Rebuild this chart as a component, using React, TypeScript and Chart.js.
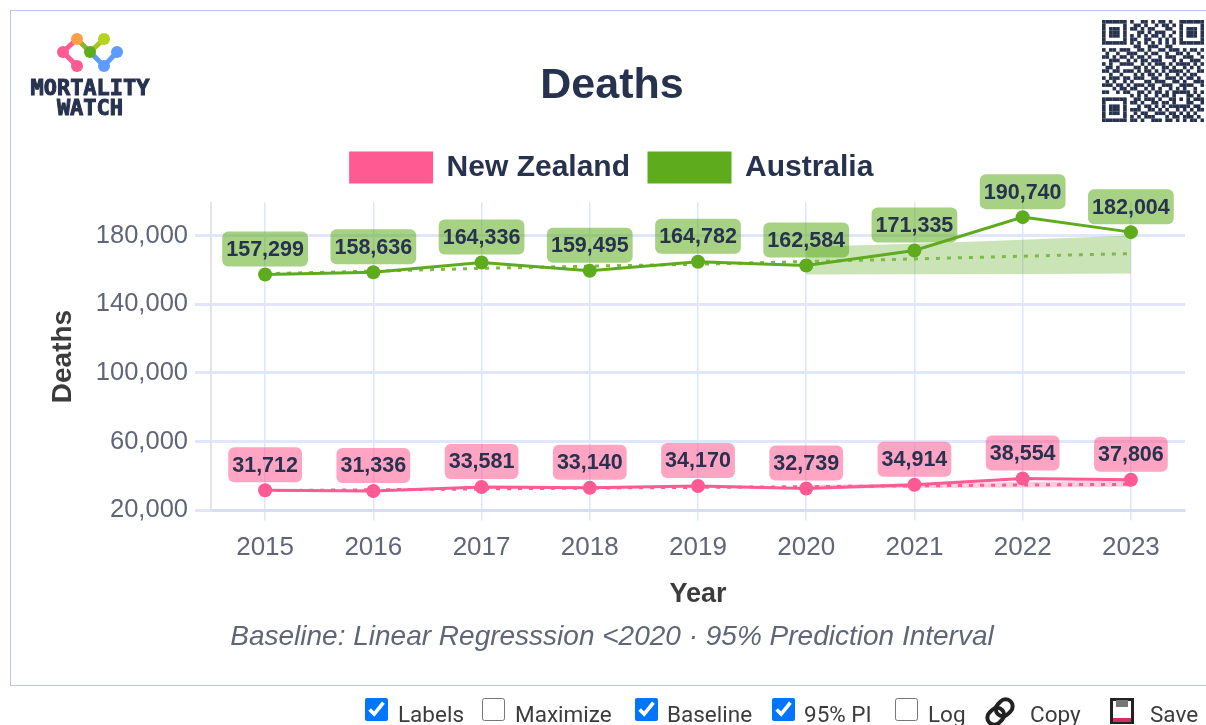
import React, { useEffect, useRef } from "react";
import { Chart, registerables } from "chart.js";

Chart.register(...registerables);

const years = ["2015", "2016", "2017", "2018", "2019", "2020", "2021", "2022", "2023"];
const newZealand = [31712, 31336, 33581, 33140, 34170, 32739, 34914, 38554, 37806];
const australia = [157299, 158636, 164336, 159495, 164782, 162584, 171335, 190740, 182004];
const nzBaseline = [31500, 32000, 32500, 33000, 33400, 33800, 34300, 34800, 35200];
const auBaseline = [157800, 159300, 160900, 162200, 163300, 164900, 166400, 168000, 169500];
const auUpper = [null, null, null, null, null, 173500, 175300, 177600, 180000];
const auLower = [null, null, null, null, null, 157300, 157500, 157700, 157900];
const nzUpper = [null, null, null, null, null, 34800, 35600, 36600, 37600];
const nzLower = [null, null, null, null, null, 32800, 33100, 33400, 33700];
const yTicks = [20000, 60000, 100000, 140000, 180000];

const qrRows = [
  "11111110100110101101001111111",
  "10000010011010010110101000001",
  "10111010110101100011001011101",
  "10111010001101011100101011101",
  "10111010101010110101001011101",
  "10000010110011001010101000001",
  "11111110101010101010101111111",
  "00000000011001110011000000000",
  "10110111001101001101110101101",
  "01001001110010110010011010010",
  "11010110101101001011100111001",
  "00111001010110111000101001110",
  "10100111100101011101011110101",
  "01101000011010100110100101010",
  "11011011101011010101111010011",
  "00100100010101101010010101100",
  "10111011011100110011101011010",
  "01010010100011011100110100111",
  "11101101011101100111001111001",
  "00010110110010101001010100100",
  "11001011001101011010111110101",
  "00000000101010010110100011010",
  "11111110011011101001101010111",
  "10000010110100110110100011001",
  "10111010001011010101111110110",
  "10111010111001101010010101011",
  "10111010010110011101101010100",
  "10000010101011100010110111010",
  "11111110110100111011010101101",
];

const GREEN = "#5eab1e";
const PINK = "#ff5a92";
const NAVY = "#27324f";
const GREY = "#5f6678";
const FONT = "'Liberation Sans', Arial, sans-serif";

const legendGap = {
  id: "legendGap",
  beforeInit(chart: any) {
    const fit = chart.legend.fit;
    chart.legend.fit = function () {
      fit.call(this);
      this.height += 10;
    };
  },
};

const pointLabels = {
  id: "pointLabels",
  afterDatasetsDraw(chart: any) {
    const ctx = chart.ctx;
    ctx.save();
    ctx.font = `bold 21.5px ${FONT}`;
    ctx.textAlign = "center";
    ctx.textBaseline = "middle";
    chart.data.datasets.forEach((ds: any, i: number) => {
      if (!ds.labelFill) return;
      chart.getDatasetMeta(i).data.forEach((el: any, j: number) => {
        const text = ds.data[j].toLocaleString("en-US");
        const w = ctx.measureText(text).width + 8;
        const h = 35;
        const x = el.x - w / 2;
        const y = el.y - 8 - h;
        ctx.fillStyle = ds.labelFill;
        ctx.beginPath();
        ctx.roundRect(x, y, w, h, 6);
        ctx.fill();
        ctx.fillStyle = NAVY;
        ctx.fillText(text, el.x, y + h / 2 + 1);
      });
    });
    ctx.restore();
  },
};

function Logo() {
  return (
    <svg width="140" height="110" viewBox="0 0 140 110" style={{ position: "absolute", left: 20, top: 25 }}>
      <g transform="translate(-20,-25)" fill="none" strokeWidth="5" strokeLinecap="round">
        <path d="M77 39 L63 52 L77 66" stroke="#ff5a92" />
        <path d="M77 39 L90 52" stroke="#8fb52a" />
        <path d="M104 39 L90 52" stroke="#a4c41e" />
        <path d="M90 52 L104 66 L117 52" stroke="#5f9bff" />
        <circle cx="77" cy="39" r="6" fill="#ff9f45" stroke="none" />
        <circle cx="104" cy="39" r="6" fill="#b5d31d" stroke="none" />
        <circle cx="63" cy="52" r="6" fill="#ff5a92" stroke="none" />
        <circle cx="77" cy="66" r="6" fill="#ff5a92" stroke="none" />
        <circle cx="90" cy="52" r="6" fill="#5eab1e" stroke="none" />
        <circle cx="117" cy="52" r="6" fill="#5f9bff" stroke="none" />
        <circle cx="104" cy="66" r="6" fill="#5f9bff" stroke="none" />
        <text x="90" y="95" textAnchor="middle" fill={NAVY} stroke={NAVY} strokeWidth="1" fontFamily="'DejaVu Sans Mono', monospace" fontWeight="bold" fontSize="22">MORTALITY</text>
        <text x="90" y="115" textAnchor="middle" fill={NAVY} stroke={NAVY} strokeWidth="1" fontFamily="'DejaVu Sans Mono', monospace" fontWeight="bold" fontSize="22">WATCH</text>
      </g>
    </svg>
  );
}

function Qr() {
  const m = 102 / qrRows.length;
  return (
    <svg width="102" height="102" style={{ position: "absolute", left: 1102, top: 20 }}>
      {qrRows.map((row, r) =>
        row.split("").map((c, k) =>
          c === "1" ? <rect key={r + "-" + k} x={k * m} y={r * m} width={m + 0.1} height={m + 0.1} fill={NAVY} /> : null
        )
      )}
    </svg>
  );
}

const textStyle = (left: number): React.CSSProperties => ({
  position: "absolute",
  left,
  top: 700,
  fontFamily: "Roboto, sans-serif",
  fontSize: 22.5,
  lineHeight: "28px",
  color: "#3c3c3c",
  whiteSpace: "nowrap",
});

function Check({ left, checked }: { left: number; checked: boolean }) {
  return (
    <input
      type="checkbox"
      checked={checked}
      readOnly
      style={{ position: "absolute", left, top: 698, width: 23, height: 23, margin: 0, accentColor: "#0075ff" }}
    />
  );
}

export default function App() {
  const ref = useRef<HTMLCanvasElement>(null);
  useEffect(() => {
    document.body.style.overflow = "hidden";
    document.body.style.margin = "0";
    const chart = new Chart(ref.current as HTMLCanvasElement, {
      type: "line",
      plugins: [legendGap, pointLabels],
      data: {
        labels: years,
        datasets: [
          { label: "New Zealand", data: newZealand, borderColor: PINK, backgroundColor: PINK, borderWidth: 3, pointRadius: 7, pointBackgroundColor: PINK, pointBorderWidth: 0, labelFill: "rgba(255,90,146,0.55)" },
          { label: "Australia", data: australia, borderColor: GREEN, backgroundColor: GREEN, borderWidth: 3, pointRadius: 7, pointBackgroundColor: GREEN, pointBorderWidth: 0, labelFill: "rgba(94,171,30,0.55)" },
          { label: "nzBase", data: nzBaseline, borderColor: PINK, borderWidth: 3, borderDash: [4, 7], pointRadius: 0 },
          { label: "auBase", data: auBaseline, borderColor: "#7dbb45", borderWidth: 3, borderDash: [4, 7], pointRadius: 0 },
          { label: "nzUpper", data: nzUpper, borderWidth: 0, pointRadius: 0, fill: "+1", backgroundColor: "rgba(255,90,146,0.3)" },
          { label: "nzLower", data: nzLower, borderWidth: 0, pointRadius: 0 },
          { label: "auUpper", data: auUpper, borderWidth: 0, pointRadius: 0, fill: "+1", backgroundColor: "rgba(94,171,30,0.32)" },
          { label: "auLower", data: auLower, borderWidth: 0, pointRadius: 0 },
        ] as any,
      },
      options: {
        animation: false,
        responsive: false,
        layout: { padding: { left: 21, right: 21, top: 0, bottom: 0 } },
        plugins: {
          tooltip: { enabled: false },
          title: {
            display: true,
            text: "Deaths",
            color: NAVY,
            font: { family: FONT, size: 43, weight: "bold" },
            padding: { top: 49, bottom: 22 },
          },
          subtitle: {
            display: true,
            position: "bottom",
            text: "Baseline: Linear Regresssion <2020 · 95% Prediction Interval",
            color: GREY,
            font: { family: FONT, size: 28, style: "italic", weight: "normal" },
            padding: { top: 10, bottom: 12 },
          },
          legend: {
            display: true,
            position: "top",
            labels: {
              boxWidth: 81,
              boxHeight: 29,
              padding: 19,
              color: NAVY,
              font: { family: FONT, size: 30, weight: "bold" },
              filter: (item: any) => item.text === "New Zealand" || item.text === "Australia",
            },
          },
        },
        scales: {
          x: {
            offset: true,
            afterFit: (s: any) => { s.height = 100; },
            title: { display: true, text: "Year", color: "#3c3c3c", font: { family: FONT, size: 27, weight: "bold" }, padding: { top: 0, bottom: 0 } },
            ticks: { color: GREY, font: { family: FONT, size: 26 }, padding: 12, maxRotation: 0 },
            grid: { color: "#dfe5fb", lineWidth: 1.5, tickLength: 10 },
            border: { color: "#d8def5", width: 3 },
          },
          y: {
            min: 20000,
            max: 199200,
            afterFit: (s: any) => { s.width = 172; },
            afterBuildTicks: (s: any) => { s.ticks = yTicks.map((value) => ({ value })); },
            title: { display: true, text: "Deaths", color: "#3c3c3c", font: { family: FONT, size: 28, weight: "bold" }, padding: { top: 7, bottom: 0 } },
            ticks: { color: GREY, font: { family: FONT, size: 25.5 }, padding: 7, callback: (v: any) => Number(v).toLocaleString("en-US") },
            grid: { color: "#e1e7fb", lineWidth: 3, tickLength: 16 },
            border: { color: "#e4e4e8", width: 2 },
          },
        },
      } as any,
    });
    return () => chart.destroy();
  }, []);

  return (
    <div style={{ position: "relative", width: 1206, height: 725, overflow: "hidden", filter: "blur(0.5px)" }}>
      <div style={{ position: "absolute", left: 10, top: 10, width: 1300, height: 674, border: "1.5px solid #b8c8f8" }} />
      <canvas ref={ref} width={1188} height={655} style={{ position: "absolute", left: 18, top: 11 }} />
      <Logo />
      <Qr />
      <Check left={365} checked />
      <span style={textStyle(398)}>Labels</span>
      <Check left={482} checked={false} />
      <span style={textStyle(515)}>Maximize</span>
      <Check left={635} checked />
      <span style={textStyle(667)}>Baseline</span>
      <Check left={772} checked />
      <span style={textStyle(804)}>95% PI</span>
      <Check left={895} checked={false} />
      <span style={textStyle(928)}>Log</span>
      <svg width="32" height="30" viewBox="0 0 32 30" style={{ position: "absolute", left: 984, top: 697 }}>
        <g transform="rotate(-45 16 15)" fill="none" stroke="#222" strokeWidth="4">
          <rect x="1" y="8" width="18" height="14" rx="7" />
          <rect x="13" y="8" width="18" height="14" rx="7" />
        </g>
      </svg>
      <span style={textStyle(1030)}>Copy</span>
      <svg width="24" height="26" viewBox="0 0 24 26" style={{ position: "absolute", left: 1110, top: 698 }}>
        <rect x="1.5" y="1.5" width="21" height="23" fill="#fff" stroke="#222" strokeWidth="3" />
        <rect x="6" y="2" width="12" height="7" fill="#777" />
        <rect x="3" y="20" width="18" height="4" fill="#d0305f" />
      </svg>
      <span style={textStyle(1150)}>Save</span>
    </div>
  );
}
